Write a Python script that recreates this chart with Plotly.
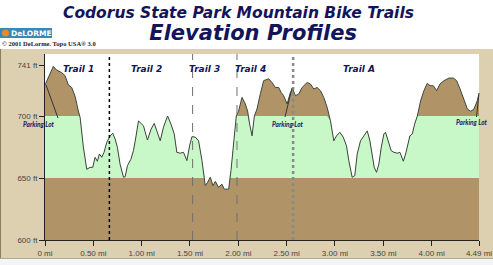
import plotly.graph_objects as go
import numpy as np

# ---------------- data ----------------
miles = [0.00, 0.034, 0.086, 0.121, 0.173, 0.207, 0.242, 0.276, 0.311, 0.345, 0.363, 0.397,
         0.432, 0.466, 0.494, 0.518, 0.542, 0.563, 0.587, 0.611, 0.639, 0.674, 0.701, 0.725,
         0.749, 0.777, 0.812, 0.829, 0.853, 0.888, 0.915, 0.940, 0.967, 1.019, 1.060, 1.098,
         1.130, 1.157, 1.192, 1.226, 1.268, 1.303, 1.337, 1.364, 1.399, 1.433, 1.468, 1.496,
         1.520, 1.554, 1.589, 1.624, 1.658, 1.682, 1.710, 1.738, 1.762, 1.796, 1.831, 1.855,
         1.900, 1.924, 1.951, 1.979, 2.003, 2.038, 2.073, 2.096, 2.117, 2.142, 2.166, 2.193,
         2.228, 2.262, 2.314, 2.349, 2.383, 2.418, 2.443, 2.469, 2.505, 2.539, 2.563, 2.591,
         2.625, 2.660, 2.712, 2.746, 2.781, 2.815, 2.850, 2.884, 2.919, 2.953, 2.988, 3.016,
         3.050, 3.085, 3.119, 3.143, 3.178, 3.205, 3.230, 3.264, 3.299, 3.334, 3.361, 3.385,
         3.406, 3.430, 3.454, 3.479, 3.506, 3.523, 3.558, 3.582, 3.610, 3.645, 3.672, 3.707,
         3.731, 3.755, 3.775, 3.800, 3.824, 3.852, 3.886, 3.920, 3.955, 3.983, 4.018, 4.052,
         4.086, 4.128, 4.179, 4.225, 4.259, 4.294, 4.329, 4.370, 4.404, 4.438, 4.472, 4.49]
elev_ft = [725, 731, 740, 737, 735, 732.5, 725, 723, 716, 704, 699, 675,
           657, 658.6, 658.6, 666.7, 663.5, 669.4, 666.7, 670.7, 678.8, 684, 686, 681.5,
           674.8, 661, 650.6, 651, 660, 665, 672, 683, 696, 692, 680.6, 689.5,
           694, 688, 680, 691, 700, 693.5, 685.5, 670.7, 670, 670.7, 664, 676,
           683.3, 683, 680, 664, 643.8, 646.5, 650.6, 643.8, 647.3, 642.5, 645, 641,
           641, 656, 680, 700, 704, 715, 709.7, 704, 693.5, 684, 700, 705.6,
           718, 728.5, 730, 727, 723, 723, 719, 716.4, 709.7, 719, 721.8, 716.4,
           717.7, 723, 727, 725.8, 721.8, 723, 720.4, 715, 707, 696.2, 680, 684,
           686.9, 683, 676, 664, 650.6, 652, 669.4, 680, 684, 688, 680, 666.7,
           658.6, 654.6, 661.3, 674.8, 685.5, 686.9, 678.8, 672, 670.7, 670, 670.7, 663.5,
           669.4, 677.4, 684, 685.5, 693.5, 700, 712.3, 720.4, 726.4, 724.4, 724.4, 720.4,
           725.8, 728.5, 730.6, 730.6, 728.5, 721.8, 715, 705.6, 703.8, 705.6, 712.3, 718]

trail_names = ["Trail 1", "Trail 2", "Trail 3", "Trail 4", "Trail A"]
trail_label_miles = [0.35, 1.05, 1.645, 2.125, 3.245]
boundaries = [0.666, 1.527, 1.986, 2.567]
band_low, band_high = 650, 700

x_tickvals = [0, 0.5, 1.0, 1.5, 2.0, 2.5, 3.0, 3.5, 4.0, 4.49]
x_ticktext = ["0 mi", "0.50 mi", "1.00 mi", "1.50 mi", "2.00 mi", "2.50 mi",
              "3.00 mi", "3.50 mi", "4.00 mi", "4.49 mi"]
y_tickvals = [600, 650, 700, 741]
y_ticktext = ["600 ft", "650 ft", "700 ft", "741 ft"]

# ---------------- style ----------------
W, H = 493, 265
L, R, T, B = 45, 14, 54, 25
PW, PH = W - L - R, H - T - B
BROWN = "#b09468"
GREEN = "#c8f8c8"
FRAME = "#ddd0b0"
NAVY = "#14145a"
TITLE_FONT = "'DejaVu Sans', sans-serif"
LABEL_FONT = "Lato, 'DejaVu Sans', sans-serif"


def px(x):
    return (x - L) / PW


def py(y):
    return (H - B - y) / PH


e = np.array(elev_ft, dtype=float)
green_top = np.clip(e, band_low, band_high)

fig = go.Figure()
fig.add_trace(go.Scatter(x=miles, y=elev_ft, mode="lines", line=dict(width=0),
                         fill="tozeroy", fillcolor=BROWN, hoverinfo="skip"))
fig.add_trace(go.Scatter(x=miles, y=[band_low] * len(miles), mode="lines",
                         line=dict(width=0), hoverinfo="skip"))
fig.add_trace(go.Scatter(x=miles, y=green_top, mode="lines", line=dict(width=0),
                         fill="tonexty", fillcolor=GREEN, hoverinfo="skip"))
fig.add_trace(go.Scatter(x=miles, y=elev_ft, mode="lines",
                         line=dict(color="#3c463c", width=1)))

shapes = []
# white title area and bottom strip over the beige paper
shapes.append(dict(type="rect", xref="paper", yref="paper", x0=px(0), x1=px(W),
                   y0=py(49), y1=py(0), fillcolor="white", line=dict(width=0), layer="below"))
shapes.append(dict(type="rect", xref="paper", yref="paper", x0=px(0), x1=px(W),
                   y0=py(H), y1=py(259), fillcolor="#f4f4f4", line=dict(width=0), layer="below"))
shapes.append(dict(type="line", xref="paper", yref="paper", x0=px(0), x1=px(W),
                   y0=py(258.5), y1=py(258.5), line=dict(color="#a8a8a8", width=1)))
shapes.append(dict(type="line", xref="paper", yref="paper", x0=px(0.5), x1=px(0.5),
                   y0=py(49), y1=py(258), line=dict(color="#8a7c60", width=1)))
# logo
shapes.append(dict(type="rect", xref="paper", yref="paper", x0=px(0), x1=px(52),
                   y0=py(38), y1=py(28), fillcolor="#3a88b4", line=dict(width=0)))
shapes.append(dict(type="circle", xref="paper", yref="paper", x0=px(2), x1=px(9),
                   y0=py(36.5), y1=py(29.5), fillcolor="#e88a2c", line=dict(width=0)))
# trail boundaries
bstyles = [dict(color="#000000", width=1.5, dash="dot"),
           dict(color="#707070", width=1, dash="dash"),
           dict(color="#707070", width=1, dash="dash"),
           dict(color="#8a8a8a", width=2.5, dash="dot")]
for b, st in zip(boundaries, bstyles):
    shapes.append(dict(type="line", xref="x", yref="paper", x0=b, x1=b, y0=0, y1=1,
                       line=st))
# parking lot pointers
for (x0, y0, x1, y1) in [(46, 85, 58, 118), (292, 88, 285, 117), (479, 93, 476.5, 117)]:
    shapes.append(dict(type="line", xref="paper", yref="paper", x0=px(x0), y0=py(y0),
                       x1=px(x1), y1=py(y1), line=dict(color="#333333", width=1)))

ann = []


def add_text(cx, cy, text, font, xanchor="center"):
    ann.append(dict(xref="paper", yref="paper", x=px(cx), y=py(cy), showarrow=False,
                    xanchor=xanchor, yanchor="middle", text=text, font=font,
                    borderpad=0, borderwidth=0))


title_text = ("<span style='font-size:15.5px'><b><i>Codorus State Park Mountain Bike Trails</i></b></span>"
              "<br><span style='font-size:21px'><b><i>&nbsp;&nbsp;&nbsp;&nbsp;Elevation Profiles</i></b></span>")
add_text(238.5, 25, title_text, dict(family=TITLE_FONT, size=16.8, color=NAVY))
add_text(31, 33, "<b>DeLORME</b>", dict(family="DejaVu Sans", size=7.5, color="white"))
add_text(2, 43.5, "<b>© 2001 DeLorme. Topo USA® 3.0</b>",
         dict(family="Liberation Serif", size=6.5, color="#222222"), xanchor="left")
for name, m in zip(trail_names, trail_label_miles):
    ann.append(dict(xref="x", yref="paper", x=m, y=py(69), showarrow=False,
                    yanchor="middle", text="<b><i>" + name + "</i></b>",
                    font=dict(family=TITLE_FONT, size=9, color=NAVY)))
for (cx, cy) in [(39, 124.5), (287.5, 124.5), (472, 122)]:
    add_text(cx, cy, "<b><i>Parking Lot</i></b>",
             dict(family=LABEL_FONT, size=6.5, color=NAVY))

tickfont = dict(family="'Liberation Sans Narrow', 'Liberation Sans', sans-serif",
                size=8, color="#444444")
fig.update_layout(
    width=W, height=H, margin=dict(l=L, r=R, t=T, b=B, pad=0, autoexpand=False),
    paper_bgcolor=FRAME, plot_bgcolor="white", showlegend=False,
    shapes=shapes, annotations=ann,
    xaxis=dict(range=[0, 4.49], tickvals=x_tickvals, ticktext=x_ticktext,
               showgrid=False, zeroline=False, showline=True, linecolor="#222222",
               linewidth=1, ticks="outside", ticklen=5, tickcolor="#222222",
               tickfont=tickfont, fixedrange=True, automargin=False),
    yaxis=dict(range=[600, 750], tickvals=y_tickvals, ticktext=y_ticktext,
               showgrid=False, zeroline=False, showline=True, linecolor="#222222",
               linewidth=1, ticks="outside", ticklen=5, tickcolor="#222222",
               tickfont=tickfont, fixedrange=True, automargin=False),
)

fig.write_html("out.html", config={"displayModeBar": False})
